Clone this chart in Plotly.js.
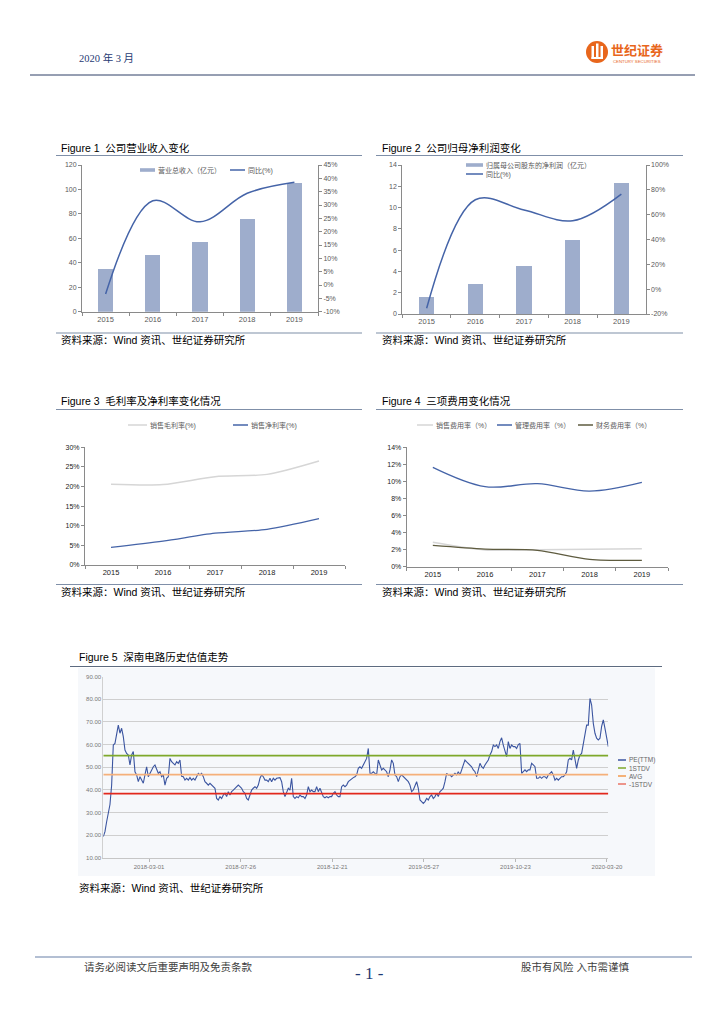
<!DOCTYPE html>
<html>
<head>
<meta charset="utf-8">
<script src="https://cdn.plot.ly/plotly-3.0.1.min.js"></script>
<style>
html,body{margin:0;padding:0;background:#fff;}
#page{width:724px;height:1024px;}
</style>
</head>
<body>
<div id="page"></div>
<script>
// ---------------- DATA ----------------
const years = ['2015', '2016', '2017', '2018', '2019'];

// Figure 1
const revenue = [35, 46, 57, 76, 105.5];            // 营业总收入（亿元）
const revenueYoY = [-3.4, 31.6, 23.7, 34.4, 38.5];  // 同比(%)
const fig1RightTicks = [-10, -5, 0, 5, 10, 15, 20, 25, 30, 35, 40, 45];

// Figure 2
const netProfit = [1.6, 2.8, 4.5, 7.0, 12.3];        // 归属母公司股东的净利润（亿元）
const netProfitYoY = [-15.4, 72.0, 63.8, 55.1, 76.6];// 同比(%)
const fig2RightTicks = [-20, 0, 20, 40, 60, 80, 100];

// Figure 3
const grossMargin = [20.6, 20.5, 22.5, 23.1, 26.5];  // 销售毛利率(%)
const netMargin = [4.5, 6.1, 8.1, 9.1, 11.8];        // 销售净利率(%)

// Figure 4
const sellingExpRate = [2.86, 1.96, 2.0, 2.05, 2.1]; // 销售费用率（%）
const adminExpRate = [11.65, 9.38, 9.73, 8.87, 9.9]; // 管理费用率（%）
const financeExpRate = [2.5, 2.07, 1.92, 0.87, 0.75];// 财务费用率（%）

// Figure 5 : PE(TTM), one reading every peStepDays trading days
const peStepDays = 1.82;
const peValues = [
  19.3,21.5,25.9,30.4,33.5,42.0,59.8,60.5,64.2,68.6,
  65.0,67.2,63.5,57.6,56.1,55.4,51.0,55.4,56.9,48.0,
  46.6,43.6,45.8,44.3,42.9,46.6,50.2,45.8,47.3,48.8,
  50.2,51.0,49.0,47.3,48.0,45.8,46.6,42.1,45.1,45.8,
  53.9,52.4,51.7,51.0,52.4,51.7,53.2,46.0,45.8,44.3,
  45.1,44.3,45.4,44.3,45.1,44.3,45.8,47.3,46.6,47.3,
  45.8,43.6,42.9,42.1,42.9,42.1,41.4,40.7,36.2,35.5,
  37.0,36.2,37.7,38.5,37.0,39.2,37.7,39.2,39.9,40.7,
  41.4,42.1,41.4,40.7,39.2,38.5,36.2,35.5,37.7,39.9,
  40.7,41.4,40.7,42.1,45.1,46.6,45.8,44.3,44.3,43.6,
  45.1,43.6,45.1,44.3,45.1,45.1,45.4,43.6,39.2,37.0,
  39.2,40.7,39.9,45.1,37.0,36.2,37.0,36.5,37.7,37.0,
  37.0,36.2,37.7,41.4,39.2,39.9,39.2,39.2,41.4,39.2,
  40.7,39.2,37.0,36.5,37.0,36.5,37.0,37.0,38.5,39.2,
  37.7,37.0,37.0,41.4,42.1,41.4,42.1,43.6,44.3,45.1,
  45.4,45.8,46.6,49.5,50.2,49.5,51.0,52.4,53.9,58.3,
  47.3,47.3,48.0,47.3,46.6,53.2,51.0,48.8,49.5,48.8,
  48.0,45.8,48.8,
  53.2,51.7,46.6,45.8,43.6,45.8,46.6,45.8,45.1,44.3,
  43.6,42.1,39.2,39.9,41.4,43.6,40.7,35.5,34.8,34.0,
  34.8,36.2,35.5,37.0,37.7,36.2,37.0,38.5,37.0,39.2,
  39.9,40.7,43.6,47.3,46.6,46.6,45.8,46.6,47.3,46.6,
  48.0,46.6,48.8,51.0,53.2,52.4,51.7,51.0,50.2,48.8,
  48.0,45.8,49.5,51.7,50.2,49.5,51.0,52.4,53.2,55.4,
  56.9,59.8,59.1,59.8,58.3,61.3,63.0,59.8,57.6,54.7,
  61.3,58.3,59.8,59.1,59.1,58.3,60.0,60.5,47.3,48.0,
  48.8,48.0,48.8,48.8,51.7,51.0,50.2,45.1,45.1,45.8,
  45.1,45.8,45.8,45.1,46.6,47.3,48.0,46.6,44.3,45.1,
  44.3,45.1,45.8,45.8,46.6,48.0,53.2,53.9,53.2,57.6,
  53.9,49.5,53.2,55.4,56.1,59.8,65.0,68.6,68.6,80.4,
  77.5,69.4,65.0,62.8,62.0,62.8,68.0,70.9,67.2,62.0,
  59.1
];
const peTickDays = [50, 150, 250, 350, 450, 550];
const peTickLabels = ['2018-03-01', '2018-07-26', '2018-12-21', '2019-05-27', '2019-10-23', '2020-03-20'];
const peBandNames = ['1STDV', 'AVG', '-1STDV'];
const peBandValues = [55.1, 46.7, 38.3];
const peTicks = [10, 20, 30, 40, 50, 60, 70, 80, 90];

// ---------------- STYLE / LAYOUT HELPERS ----------------
const W = 724, H = 1024;
const px = v => v / W;
const py = v => 1 - v / H;
const LATIN = '"Liberation Sans", Arial, sans-serif';
const CJK = '"Liberation Sans", Arial, "Noto Sans CJK SC", sans-serif';
const SERIF = '"Liberation Serif", "Noto Sans CJK SC", serif';
const BLUE = '#4564a8';
const BAR = '#9eadcc';
const LGRAY = '#d6d6d6';
const OLIVE = '#5e5b3f';
const AX = '#8a8a8a';
const RULE = '#7f8fa8';
const bandColors = ['#7ea82b', '#f5b07a', '#e2281d'];
const bandLegendColors = ['#7ea82b', '#f39a4c', '#ea7466'];

const shapes = [];
const annotations = [];
function hline(x0, x1, y, color, width) {
  shapes.push({type: 'line', xref: 'paper', yref: 'paper', x0: px(x0), x1: px(x1), y0: py(y), y1: py(y), line: {color: color, width: width}});
}
function label(x, y, str, size, color, family, anchor) {
  annotations.push({xref: 'paper', yref: 'paper', x: px(x), y: py(y), text: str, showarrow: false,
    xanchor: anchor || 'left', yanchor: 'middle', borderpad: 0, font: {size: size, color: color, family: family || CJK}});
}
function legendItem(x, y, len, kind, color, text, size, textColor) {
  if (kind === 'bar') {
    shapes.push({type: 'rect', xref: 'paper', yref: 'paper', x0: px(x), x1: px(x + len), y0: py(y + 1.8), y1: py(y - 1.8), fillcolor: color, line: {width: 0}});
  } else {
    shapes.push({type: 'line', xref: 'paper', yref: 'paper', x0: px(x), x1: px(x + len), y0: py(y), y1: py(y), line: {color: color, width: 1.5}});
  }
  label(x + len + 2, y, text, size, textColor);
}

// header
label(78, 58, '2020 年 3 月', 10.5, '#1f3a73', SERIF);
hline(30, 695, 75, '#2e3f66', 1);
shapes.push({type: 'circle', xref: 'paper', yref: 'paper', x0: px(586), x1: px(608), y0: py(63), y1: py(41), fillcolor: '#e8661c', line: {width: 0}});
[[591.5, 46, 594, 59], [596, 43.5, 598.5, 59], [600.5, 46, 603, 59], [591.5, 57, 603, 59]].forEach(r => {
  shapes.push({type: 'rect', xref: 'paper', yref: 'paper', x0: px(r[0]), x1: px(r[2]), y0: py(r[3]), y1: py(r[1]), fillcolor: '#ffffff', line: {width: 0}});
});
annotations.push({xref: 'paper', yref: 'paper', x: px(610), y: py(50), text: '<b>世纪证券</b>', showarrow: false, xanchor: 'left', yanchor: 'middle', borderpad: 0, font: {size: 13, color: '#e8661c', family: CJK}});
label(612, 61.5, 'CENTURY SECURITIES', 4.3, '#e8661c', LATIN);

// footer
hline(35, 692, 957, '#9aaac4', 1.5);
label(83, 967, '请务必阅读文后重要声明及免责条款', 10.5, '#404040');
label(369, 973, '- 1 -', 17, '#1f3a73', SERIF, 'center');
label(520, 967, '股市有风险 入市需谨慎', 10.5, '#404040');

// figure frames
const src = '资料来源：Wind 资讯、世纪证券研究所';
label(60, 148, 'Figure 1  公司营业收入变化', 10.5, '#000');
hline(56, 362, 155.5, RULE, 1.2);
hline(56, 362, 333, RULE, 1.2);
label(60, 340, src, 10.5, '#000');

label(381, 148, 'Figure 2  公司归母净利润变化', 10.5, '#000');
hline(376, 683, 155.5, RULE, 1.2);
hline(376, 683, 333, RULE, 1.2);
label(381, 340, src, 10.5, '#000');

label(60, 401, 'Figure 3  毛利率及净利率变化情况', 10.5, '#000');
hline(56, 362, 409.5, RULE, 1.2);
hline(56, 362, 584.5, RULE, 1.2);
label(60, 592, src, 10.5, '#000');

label(381, 401, 'Figure 4  三项费用变化情况', 10.5, '#000');
hline(376, 683, 409.5, RULE, 1.2);
hline(376, 683, 584.5, RULE, 1.2);
label(381, 592, src, 10.5, '#000');

label(78, 657, 'Figure 5  深南电路历史估值走势', 10.5, '#000');
hline(70, 662, 666.5, '#5d6b80', 1.2);
shapes.push({type: 'rect', xref: 'paper', yref: 'paper', layer: 'below', x0: px(78), x1: px(655), y0: py(876), y1: py(668), fillcolor: '#f6f8fb', line: {width: 0}});
label(78, 888, src, 10.5, '#000');

// legends
const LG = '#595959';
legendItem(140, 170, 15, 'bar', BAR, '营业总收入（亿元）', 7, LG);
legendItem(230, 170, 15, 'line', BLUE, '同比(%)', 7, LG);
legendItem(466, 165, 17, 'bar', BAR, '归属母公司股东的净利润（亿元）', 7, LG);
legendItem(466, 174, 17, 'line', BLUE, '同比(%)', 7, LG);
legendItem(128, 425, 19, 'line', LGRAY, '销售毛利率(%)', 7, LG);
legendItem(233, 425, 15, 'line', BLUE, '销售净利率(%)', 7, LG);
legendItem(417, 425, 16, 'line', LGRAY, '销售费用率（%）', 7, LG);
legendItem(497, 425, 15, 'line', BLUE, '管理费用率（%）', 7, LG);
legendItem(578, 425, 15, 'line', OLIVE, '财务费用率（%）', 7, LG);
legendItem(618, 760, 8, 'line', '#3b55a0', 'PE(TTM)', 6.5, '#666');
peBandNames.forEach((n, i) => legendItem(618, 768 + 8 * i, 8, 'line', bandLegendColors[i], n, 6.5, '#666'));

// ---------------- AXES ----------------
function catAxis(x0, x1, anchor, color) {
  return {domain: [px(x0), px(x1)], anchor: anchor, type: 'category', range: [-0.5, 4.5],
    showline: true, linecolor: AX, linewidth: 1, ticks: 'outside', tickson: 'boundaries', ticklen: 3, tickcolor: AX,
    showgrid: false, zeroline: false, tickfont: {size: 7.5, color: color, family: LATIN}};
}
function valAxis(y0, y1, anchor, range, dtick, suffix, color) {
  return {domain: [py(y1), py(y0)], anchor: anchor, range: range, dtick: dtick, tick0: 0, ticksuffix: suffix || '',
    showline: true, linecolor: AX, linewidth: 1, ticks: 'outside', ticklen: 3, tickcolor: AX,
    showgrid: false, zeroline: false, tickfont: {size: 7, color: color, family: LATIN}};
}
function rightAxis(over, anchor, range, ticks) {
  return {overlaying: over, side: 'right', anchor: anchor, range: range,
    tickmode: 'array', tickvals: ticks, ticktext: ticks.map(v => String(v) + '%'),
    showline: true, linecolor: AX, linewidth: 1, ticks: 'outside', ticklen: 3, tickcolor: AX,
    showgrid: false, zeroline: false, tickfont: {size: 7, color: '#595959', family: LATIN}};
}

const peX = peValues.map((v, i) => i * peStepDays);
const peMax = (peValues.length - 1) * peStepDays;

const layout = {
  width: W, height: H, margin: {l: 0, r: 0, t: 0, b: 0},
  paper_bgcolor: '#ffffff', plot_bgcolor: 'rgba(0,0,0,0)',
  showlegend: false, bargap: 0,
  font: {family: CJK, size: 7, color: '#595959'},
  xaxis: catAxis(82, 318, 'y', '#595959'),
  yaxis: valAxis(165, 311.7, 'x', [0, 120], 20, '', '#595959'),
  yaxis2: rightAxis('y', 'x', [-10, 45], fig1RightTicks),
  xaxis2: catAxis(402.3, 645.7, 'y3', '#595959'),
  yaxis3: valAxis(165, 314, 'x2', [0, 14], 2, '', '#595959'),
  yaxis4: rightAxis('y3', 'x2', [-20, 100], fig2RightTicks),
  xaxis3: catAxis(85, 345, 'y5', '#222'),
  yaxis5: valAxis(447.3, 565, 'x3', [0, 30], 5, '%', '#222'),
  xaxis4: catAxis(406.7, 668, 'y6', '#222'),
  yaxis6: valAxis(447.3, 566.7, 'x4', [0, 14], 2, '%', '#222'),
  xaxis5: {domain: [px(103.3), px(608.3)], anchor: 'y7', range: [0, peMax],
    tickmode: 'array', tickvals: peTickDays, ticktext: peTickLabels,
    showline: true, linecolor: '#c6c6c6', ticks: 'outside', ticklen: 3, tickcolor: '#b8b8b8',
    showgrid: false, zeroline: false, tickfont: {size: 6, color: '#777', family: LATIN}},
  yaxis7: {domain: [py(857.7), py(676.7)], anchor: 'x5', range: [10, 90],
    tickmode: 'array', tickvals: peTicks, tickformat: '.2f',
    showline: true, linecolor: '#d0d0d0', ticks: '', showgrid: true, gridcolor: '#cfcfcf', gridwidth: 1,
    zeroline: false, tickfont: {size: 6, color: '#777', family: LATIN}},
  shapes: shapes,
  annotations: annotations
};

// ---------------- TRACES ----------------
const traces = [
  {type: 'bar', x: years, y: revenue, xaxis: 'x', yaxis: 'y', width: 0.32, marker: {color: BAR}, name: '营业总收入（亿元）'},
  {type: 'scatter', mode: 'lines', x: years, y: revenueYoY, xaxis: 'x', yaxis: 'y2', line: {color: BLUE, width: 1.5, shape: 'spline', smoothing: 1}, name: '同比(%)'},
  {type: 'bar', x: years, y: netProfit, xaxis: 'x2', yaxis: 'y3', width: 0.31, marker: {color: BAR}, name: '归属母公司股东的净利润（亿元）'},
  {type: 'scatter', mode: 'lines', x: years, y: netProfitYoY, xaxis: 'x2', yaxis: 'y4', line: {color: BLUE, width: 1.5, shape: 'spline', smoothing: 1}, name: '同比(%)'},
  {type: 'scatter', mode: 'lines', x: years, y: grossMargin, xaxis: 'x3', yaxis: 'y5', line: {color: LGRAY, width: 1.5, shape: 'spline', smoothing: 0.8}, name: '销售毛利率(%)'},
  {type: 'scatter', mode: 'lines', x: years, y: netMargin, xaxis: 'x3', yaxis: 'y5', line: {color: BLUE, width: 1.3, shape: 'spline', smoothing: 0.8}, name: '销售净利率(%)'},
  {type: 'scatter', mode: 'lines', x: years, y: sellingExpRate, xaxis: 'x4', yaxis: 'y6', line: {color: LGRAY, width: 1.5, shape: 'spline', smoothing: 0.8}, name: '销售费用率（%）'},
  {type: 'scatter', mode: 'lines', x: years, y: adminExpRate, xaxis: 'x4', yaxis: 'y6', line: {color: BLUE, width: 1.3, shape: 'spline', smoothing: 1}, name: '管理费用率（%）'},
  {type: 'scatter', mode: 'lines', x: years, y: financeExpRate, xaxis: 'x4', yaxis: 'y6', line: {color: OLIVE, width: 1.3, shape: 'spline', smoothing: 0.8}, name: '财务费用率（%）'},
  {type: 'scatter', mode: 'lines', x: peX, y: peValues, xaxis: 'x5', yaxis: 'y7', line: {color: '#3b55a0', width: 1.1}, name: 'PE(TTM)'}
];
peBandNames.forEach((n, i) => {
  traces.push({type: 'scatter', mode: 'lines', x: [0, peMax], y: [peBandValues[i], peBandValues[i]], xaxis: 'x5', yaxis: 'y7',
    line: {color: bandColors[i], width: 1.6}, name: n});
});

Plotly.newPlot('page', traces, layout, {displayModeBar: false, staticPlot: true});
</script>
</body>
</html>
